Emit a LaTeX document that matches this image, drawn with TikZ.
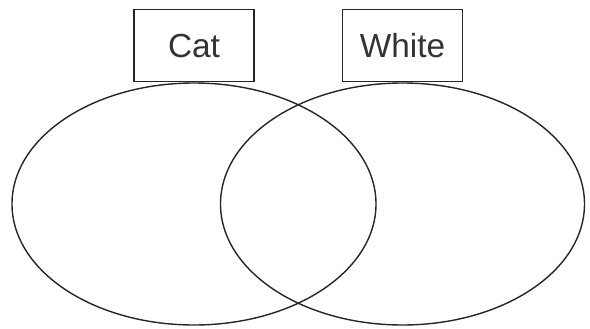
\documentclass[tikz,border=0pt]{standalone}
\usepackage{fontspec}
\setmainfont{Liberation Sans}
\usepackage{xcolor}
\usetikzlibrary{positioning,shapes.geometric}

\begin{document}
\begin{tikzpicture}[
  node distance=0pt,
  set/.style={draw=black!85, ellipse, line width=0.8pt, inner sep=0pt, minimum width=7.28cm, minimum height=4.84cm},
  tag/.style={draw=black!85, line width=0.8pt, align=center, minimum width=2.4cm, minimum height=1.44cm, inner sep=0pt, font=\fontsize{19}{21}\selectfont, text=black!80}
]
\useasboundingbox (0,0) rectangle (11.8,-6.58);
\node[set] (cat-set) at (3.88,-4.08) {};
\node[set] (white-set) at (8.05,-4.08) {};
\node[tag, above=of cat-set.north] (cat-tag) {Cat};
\node[tag, above=of white-set.north] (white-tag) {White};
\end{tikzpicture}
\end{document}
